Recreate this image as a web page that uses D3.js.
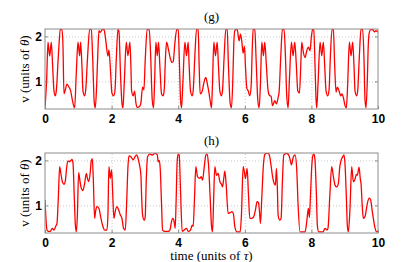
<!DOCTYPE html>
<html>
<head>
<meta charset="utf-8">
<script src="https://cdn.jsdelivr.net/npm/d3@7"></script>
<style>
  body { margin: 0; background: #fff; }
  svg { display: block; }
  .tick text { font-family: "Liberation Sans", Arial, sans-serif; font-weight: bold; font-size: 12px; fill: #000; }
  .lbl { font-family: "Liberation Serif", "DejaVu Serif", serif; font-size: 13px; fill: #000; }
</style>
</head>
<body>
<div id="chart-area"></div>
<script>
const width = 407;
const height = 262;

// panel (g)
const tTop = [0.00,0.05,0.09,0.14,0.19,0.23,0.27,0.31,0.34,0.40,0.46,0.51,0.54,0.57,0.61,0.66,0.72,0.77,0.82,0.86,0.89,0.94,0.99,1.04,1.07,1.11,1.14,1.19,1.22,1.28,1.34,1.39,1.43,1.48,1.51,1.55,1.59,1.62,1.66,1.72,1.77,1.82,1.89,1.92,1.96,2.01,2.06,2.10,2.14,2.19,2.22,2.27,2.31,2.34,2.38,2.44,2.49,2.55,2.58,2.60,2.65,2.69,2.73,2.77,2.84,2.88,2.93,2.97,3.01,3.07,3.13,3.17,3.22,3.26,3.29,3.33,3.37,3.41,3.45,3.50,3.55,3.58,3.62,3.65,3.71,3.76,3.81,3.85,3.90,3.96,4.00,4.04,4.07,4.10,4.14,4.20,4.25,4.30,4.33,4.37,4.42,4.45,4.50,4.55,4.60,4.63,4.66,4.72,4.76,4.80,4.83,4.87,4.93,4.97,5.00,5.03,5.07,5.12,5.17,5.21,5.25,5.30,5.33,5.38,5.43,5.47,5.51,5.56,5.60,5.64,5.67,5.70,5.77,5.83,5.87,5.91,5.95,5.99,6.02,6.06,6.10,6.15,6.19,6.22,6.25,6.30,6.34,6.39,6.43,6.47,6.51,6.56,6.60,6.65,6.70,6.75,6.79,6.83,6.87,6.90,6.95,7.00,7.03,7.08,7.13,7.18,7.22,7.26,7.30,7.34,7.40,7.45,7.50,7.55,7.59,7.64,7.68,7.71,7.76,7.81,7.86,7.91,7.96,8.00,8.04,8.07,8.11,8.14,8.16,8.20,8.26,8.31,8.36,8.40,8.44,8.49,8.53,8.57,8.62,8.66,8.70,8.74,8.78,8.83,8.88,8.92,8.96,9.01,9.05,9.09,9.14,9.19,9.24,9.28,9.31,9.36,9.39,9.44,9.49,9.54,9.58,9.61,9.64,9.68,9.71,9.74,9.78,9.84,9.89,9.94,10.00];
const vTop = [0.41,1.04,1.87,1.56,1.87,1.33,0.79,0.68,0.79,1.56,2.15,2.16,1.78,0.72,0.81,0.94,0.87,0.79,0.59,0.46,0.41,1.19,1.87,1.57,1.87,1.33,0.79,0.68,0.79,1.56,2.16,2.15,1.56,0.52,0.41,0.89,1.70,2.13,2.09,2.15,2.16,1.94,1.56,1.70,1.33,0.74,0.68,0.78,1.48,2.16,2.11,1.11,0.52,0.41,0.96,1.87,1.57,1.87,1.33,0.79,0.68,0.78,0.52,0.42,0.44,0.52,0.87,0.81,1.48,2.15,2.16,1.63,0.59,0.41,0.96,1.87,1.57,1.87,1.33,0.72,0.68,0.81,1.56,1.87,1.70,1.52,1.42,1.44,1.85,2.16,2.15,1.33,0.59,0.41,0.96,1.87,1.57,1.87,1.33,0.79,0.68,0.79,1.56,2.16,2.15,1.33,0.72,0.78,0.93,1.05,1.09,0.96,0.72,0.52,0.41,0.96,1.87,1.57,1.87,1.33,0.79,0.68,0.79,1.56,2.16,2.15,1.33,0.52,0.41,1.04,1.85,2.13,2.16,1.90,2.05,1.89,1.63,1.78,1.33,0.85,0.79,0.68,0.89,1.63,2.16,2.15,1.48,0.59,0.41,0.96,1.87,1.57,1.87,1.33,0.79,0.68,0.67,0.46,0.52,0.57,0.50,0.64,0.76,1.56,2.15,2.16,1.56,0.67,0.41,1.04,1.87,1.57,1.87,1.33,0.79,0.74,1.33,1.87,1.64,1.53,1.68,1.76,1.68,2.00,2.16,2.15,1.33,0.59,0.41,0.96,1.87,1.57,1.87,1.33,0.79,0.68,0.81,1.56,2.16,2.15,1.33,0.76,0.87,0.79,0.68,0.72,0.64,0.46,0.41,0.96,1.87,1.57,1.87,1.33,0.79,0.68,0.79,1.56,2.15,2.16,1.48,0.59,0.41,1.04,1.85,2.09,2.15,2.15,2.10,2.13,2.09];

// panel (h)
const tBottom = [0.00,0.06,0.10,0.16,0.22,0.27,0.32,0.36,0.40,0.44,0.48,0.52,0.57,0.61,0.65,0.69,0.74,0.78,0.81,0.84,0.88,0.91,0.94,0.97,1.01,1.05,1.09,1.14,1.19,1.24,1.28,1.31,1.35,1.39,1.42,1.45,1.49,1.52,1.56,1.62,1.67,1.71,1.74,1.79,1.86,1.89,1.92,1.96,2.00,2.03,2.07,2.11,2.16,2.21,2.26,2.31,2.36,2.41,2.45,2.49,2.52,2.58,2.65,2.70,2.75,2.79,2.83,2.88,2.90,2.93,2.98,3.01,3.04,3.08,3.15,3.23,3.30,3.37,3.40,3.43,3.46,3.50,3.53,3.60,3.70,3.75,3.80,3.83,3.87,3.91,3.94,3.97,4.00,4.03,4.07,4.12,4.18,4.25,4.30,4.37,4.42,4.45,4.49,4.53,4.58,4.65,4.69,4.73,4.78,4.83,4.87,4.91,4.96,5.00,5.03,5.06,5.10,5.15,5.20,5.25,5.30,5.33,5.37,5.40,5.44,5.50,5.56,5.62,5.66,5.70,5.76,5.86,5.90,5.95,5.99,6.02,6.07,6.11,6.15,6.21,6.27,6.32,6.37,6.41,6.44,6.47,6.51,6.56,6.60,6.65,6.70,6.75,6.80,6.84,6.88,6.92,6.95,6.98,7.00,7.05,7.09,7.13,7.17,7.25,7.32,7.37,7.40,7.46,7.51,7.56,7.60,7.66,7.81,7.86,7.89,7.91,7.94,7.97,8.01,8.04,8.08,8.11,8.15,8.18,8.22,8.35,8.41,8.47,8.50,8.55,8.61,8.66,8.71,8.76,8.81,8.85,8.88,8.94,8.98,9.01,9.05,9.08,9.11,9.16,9.21,9.26,9.31,9.35,9.38,9.43,9.47,9.49,9.53,9.56,9.61,9.65,9.68,9.74,9.78,9.82,9.86,9.91,9.96,10.00];
const vBottom = [1.12,0.45,0.42,0.42,0.49,0.45,0.53,0.60,1.17,1.86,1.69,1.53,1.47,1.54,1.84,1.99,1.97,2.00,2.02,1.95,1.17,0.58,0.41,0.73,1.73,1.54,1.38,1.33,1.49,1.71,1.58,1.53,1.67,1.99,2.04,1.61,0.71,0.87,0.97,0.93,0.75,0.61,0.53,0.45,0.45,0.80,1.86,1.60,1.79,1.32,0.71,0.87,0.97,0.90,0.79,0.71,0.49,0.45,1.02,1.84,2.10,2.08,2.01,2.08,2.12,2.06,1.93,1.67,1.24,0.79,0.67,0.75,1.54,2.08,2.14,2.12,2.16,2.13,1.97,2.00,1.82,1.02,0.45,0.42,0.42,0.45,0.64,0.71,0.67,0.49,1.17,1.99,2.14,2.12,1.32,0.42,0.45,0.49,0.42,0.45,0.56,0.53,1.17,1.86,1.64,1.60,1.64,1.56,1.84,2.12,2.14,1.91,1.17,0.54,0.41,1.02,1.86,1.67,1.71,1.53,1.47,1.41,1.61,1.76,1.47,0.82,0.84,0.86,0.80,0.53,0.41,0.41,0.80,1.86,1.73,1.60,1.82,1.24,0.71,0.71,0.75,0.90,1.08,1.06,0.87,0.60,1.17,1.91,2.13,2.16,2.16,2.08,1.82,1.61,1.49,1.45,1.82,1.32,0.79,0.67,0.71,1.54,2.12,2.16,2.12,1.99,1.90,2.08,2.12,1.79,1.02,0.41,0.41,0.64,0.84,0.93,0.73,1.17,1.86,2.10,2.14,1.99,1.24,0.54,0.41,0.41,0.49,0.45,0.50,1.17,1.86,1.64,1.45,1.41,1.49,1.84,1.97,2.08,2.12,1.91,1.17,0.54,0.41,0.95,1.86,1.53,1.58,1.69,1.67,1.85,1.58,1.49,0.95,0.71,0.75,0.91,1.04,1.16,1.12,0.91,0.71,0.50,0.41,0.43];

const xTicks = [0, 2, 4, 6, 8, 10];
const yTicks = [1, 2];
const yDomain = [0.385, 2.165];

const panels = [
  { title: '(g)', t: tTop, v: vTop, top: 29, xlabel: false },
  { title: '(h)', t: tBottom, v: vBottom, top: 153, xlabel: true }
];

const margin = { left: 45, right: 29 };
const plotW = width - margin.left - margin.right;
const plotH = 80;

const svg = d3.select('#chart-area').append('svg')
  .attr('width', width)
  .attr('height', height);

const x = d3.scaleLinear().domain([0, 10]).range([0, plotW]);
const y = d3.scaleLinear().domain(yDomain).range([plotH, 0]);

panels.forEach((p, i) => {
  const g = svg.append('g').attr('transform', `translate(${margin.left},${p.top})`);

  // grid
  g.append('g')
    .attr('transform', `translate(0,${plotH})`)
    .call(d3.axisBottom(x).tickValues([2, 4, 6, 8]).tickSize(-plotH).tickFormat(''))
    .call((a) => a.select('.domain').remove())
    .selectAll('line').attr('stroke', '#c8c8c8').attr('stroke-dasharray', '1,2');
  g.append('g')
    .call(d3.axisLeft(y).tickValues(yTicks).tickSize(-plotW).tickFormat(''))
    .call((a) => a.select('.domain').remove())
    .selectAll('line').attr('stroke', '#c8c8c8').attr('stroke-dasharray', '1,2');

  // signal
  const clipId = `clip${i}`;
  g.append('clipPath').attr('id', clipId)
    .append('rect').attr('width', plotW).attr('height', plotH);
  const line = d3.line()
    .x((d, j) => x(p.t[j]))
    .y((d) => y(d))
    .curve(d3.curveMonotoneX);
  g.append('path')
    .datum(p.v)
    .attr('clip-path', `url(#${clipId})`)
    .attr('fill', 'none')
    .attr('stroke', '#ff0000')
    .attr('stroke-width', 1.3)
    .attr('stroke-linejoin', 'round')
    .attr('d', line);

  // axes
  const xAxis = g.append('g')
    .attr('transform', `translate(0,${plotH})`)
    .call(d3.axisBottom(x).tickValues(xTicks).tickSizeInner(-3).tickSizeOuter(0).tickPadding(5).tickFormat(d3.format('d')));
  xAxis.select('.domain').remove();
  xAxis.selectAll('line').attr('stroke', '#888');
  const yAxis = g.append('g')
    .call(d3.axisLeft(y).tickValues(yTicks).tickSizeInner(-3).tickSizeOuter(0).tickPadding(3).tickFormat(d3.format('d')));
  yAxis.select('.domain').remove();
  yAxis.selectAll('line').attr('stroke', '#888');
  g.append('g')
    .attr('transform', `translate(${plotW},0)`)
    .call(d3.axisRight(y).tickValues(yTicks).tickSizeInner(-3).tickSizeOuter(0).tickFormat(''))
    .call((a) => a.select('.domain').remove())
    .selectAll('line').attr('stroke', '#888');

  // box
  g.append('rect')
    .attr('width', plotW)
    .attr('height', plotH)
    .attr('fill', 'none')
    .attr('stroke', '#8c8c8c')
    .attr('stroke-width', 1);

  // title
  g.append('text')
    .attr('class', 'lbl')
    .attr('x', plotW / 2)
    .attr('y', -8)
    .attr('text-anchor', 'middle')
    .text(p.title);

  // y label
  const yl = g.append('text')
    .attr('class', 'lbl')
    .attr('transform', `translate(-16,${plotH / 2}) rotate(-90)`)
    .attr('text-anchor', 'middle');
  yl.append('tspan').text('v (units of ');
  yl.append('tspan').attr('font-style', 'italic').text('θ');
  yl.append('tspan').text(')');

  if (p.xlabel) {
    const xl = g.append('text')
      .attr('class', 'lbl')
      .attr('x', plotW / 2)
      .attr('y', plotH + 27)
      .attr('text-anchor', 'middle');
    xl.append('tspan').text('time (units of ');
    xl.append('tspan').attr('font-style', 'italic').text('τ');
    xl.append('tspan').text(')');
  }
});
</script>
</body>
</html>
